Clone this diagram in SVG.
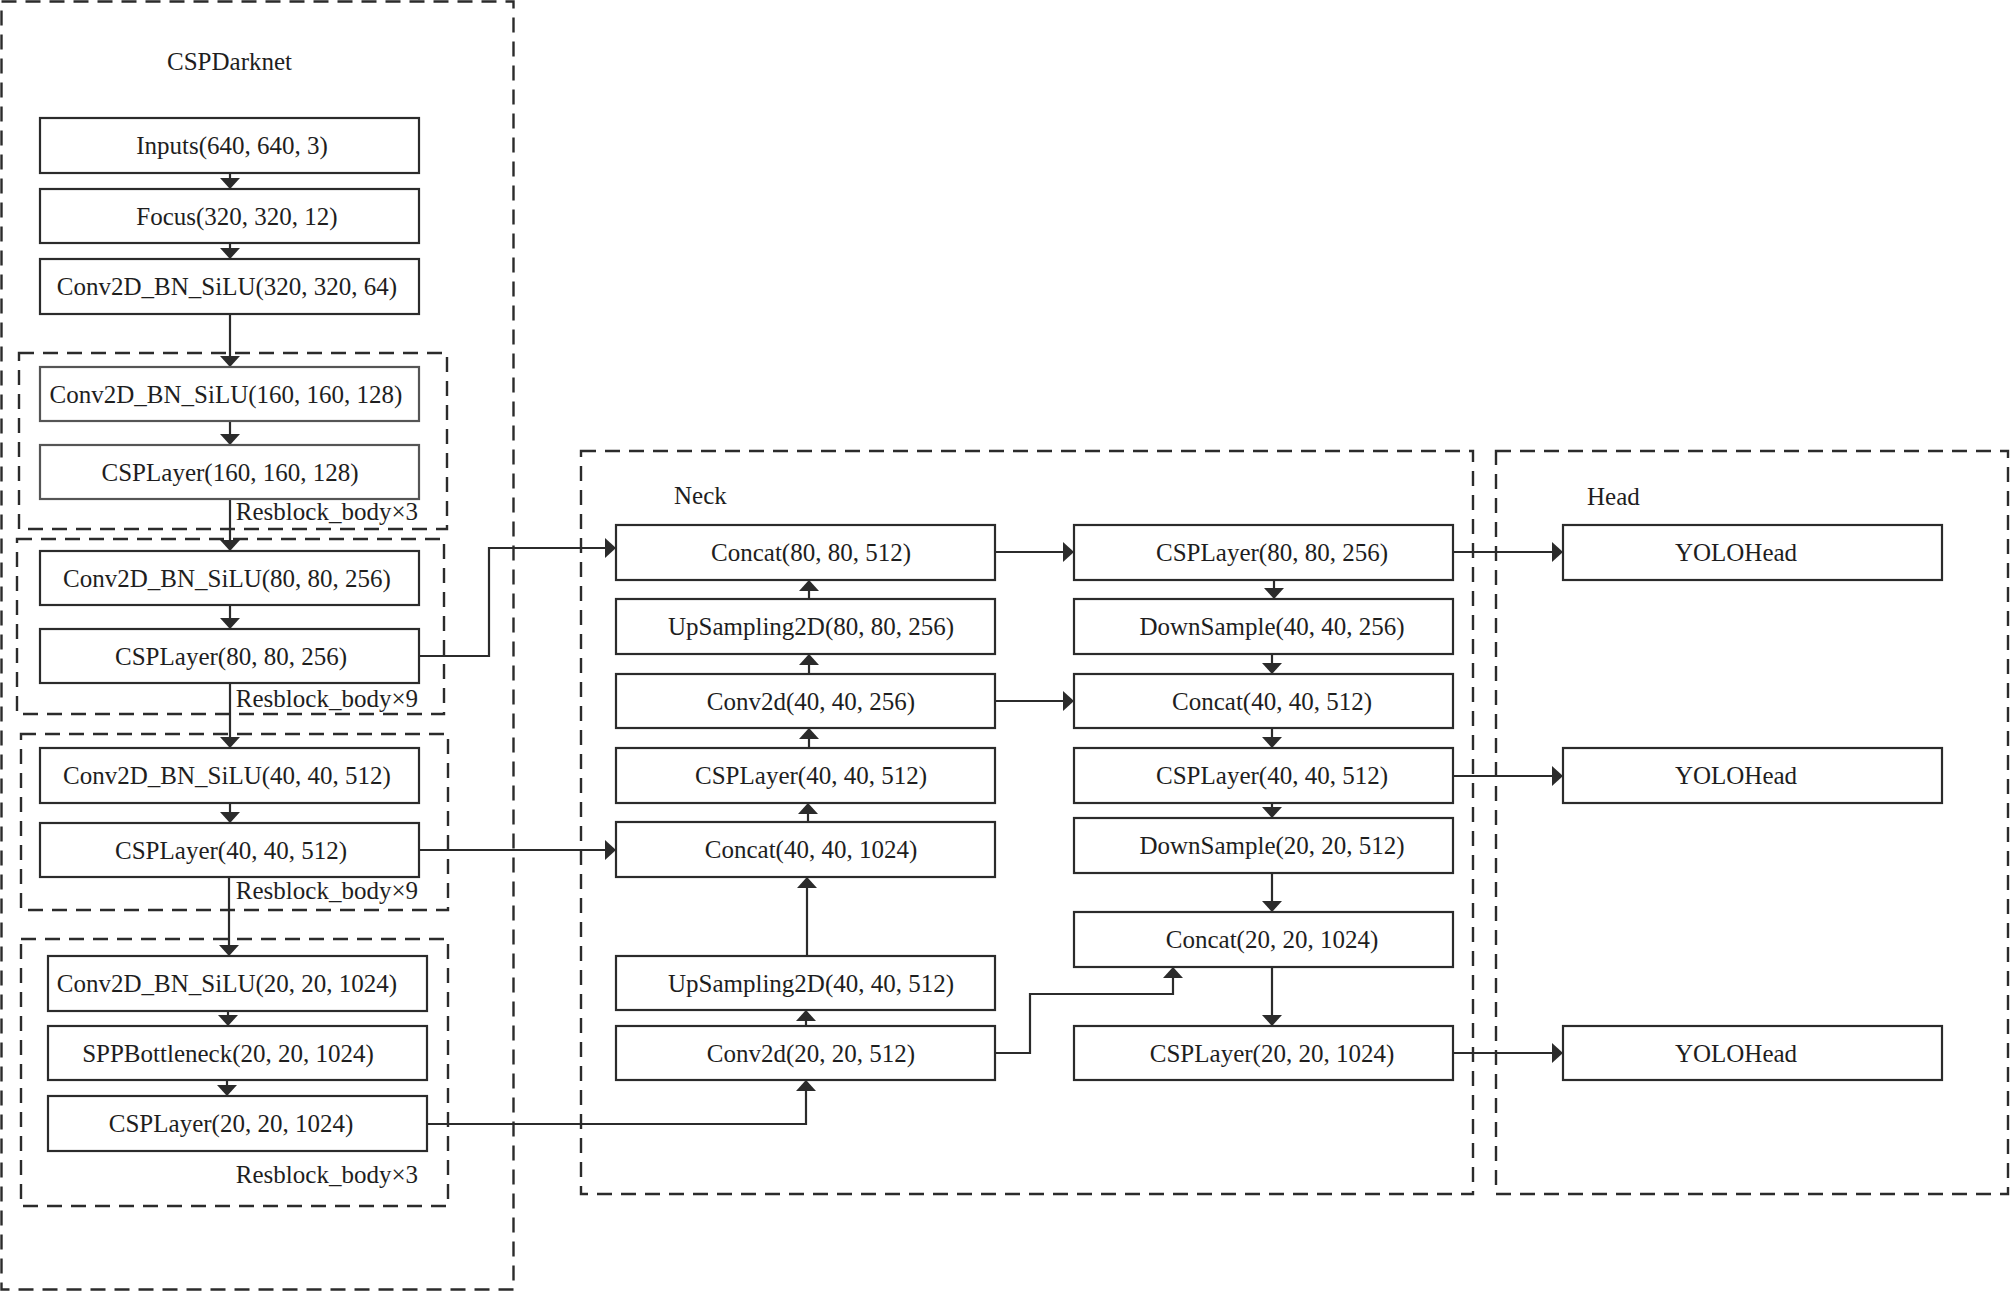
<svg xmlns="http://www.w3.org/2000/svg" width="2010" height="1293" viewBox="0 0 2010 1293">
<style>
  .bg{fill:#ffffff}
  .node rect{fill:#ffffff;stroke:#2b2b2b;stroke-width:2.2}
  .node text{font-family:"Liberation Serif","Times New Roman",serif;font-size:25px;fill:#1e1e1e;text-anchor:middle}
  .grp{fill:none;stroke:#2b2b2b;stroke-width:2.4;stroke-dasharray:15 9}
  .lbl{font-family:"Liberation Serif","Times New Roman",serif;font-size:25px;fill:#1e1e1e}
  .lbl.end{text-anchor:end}
  .conn path{fill:none;stroke:#2b2b2b;stroke-width:2.2}
</style>
<defs>
  <marker id="arr" viewBox="0 0 11 20" refX="11" refY="10" markerWidth="11" markerHeight="20" orient="auto" markerUnits="userSpaceOnUse">
    <path d="M0,0 L11,10 L0,20 z" fill="#2b2b2b"/>
  </marker>
</defs>
<rect class="bg" x="0" y="0" width="2010" height="1293"/>

<!-- group frames -->
<g id="frames">
  <rect class="grp" x="1.5" y="1.5" width="512" height="1288"/>
  <rect class="grp" x="19" y="353" width="428" height="176"/>
  <rect class="grp" x="17" y="539" width="427" height="175"/>
  <rect class="grp" x="21" y="734" width="427" height="176"/>
  <rect class="grp" x="21" y="939" width="427" height="267"/>
  <rect class="grp" x="581" y="451" width="892" height="743"/>
  <rect class="grp" x="1496" y="451" width="512" height="743"/>
  <text class="lbl" x="167" y="70">CSPDarknet</text>
  <text class="lbl" x="674" y="504">Neck</text>
  <text class="lbl" x="1587" y="505">Head</text>
  <text class="lbl end" x="418" y="520">Resblock_body×3</text>
  <text class="lbl end" x="418" y="707">Resblock_body×9</text>
  <text class="lbl end" x="418" y="899">Resblock_body×9</text>
  <text class="lbl end" x="418" y="1183">Resblock_body×3</text>
</g>

<!-- connectors -->
<g id="connectors" class="conn">
  <path d="M230,173 V189" marker-end="url(#arr)"/>
  <path d="M230,243 V259" marker-end="url(#arr)"/>
  <path d="M230,314 V367" marker-end="url(#arr)"/>
  <path d="M230,421 V445" marker-end="url(#arr)"/>
  <path d="M230,499 V551" marker-end="url(#arr)"/>
  <path d="M230,605 V629" marker-end="url(#arr)"/>
  <path d="M230,683 V748" marker-end="url(#arr)"/>
  <path d="M230,803 V823" marker-end="url(#arr)"/>
  <path d="M229,877 V956" marker-end="url(#arr)"/>
  <path d="M228,1011 V1026" marker-end="url(#arr)"/>
  <path d="M227,1080 V1096" marker-end="url(#arr)"/>

  <path d="M419,656 H489 V548 H616" marker-end="url(#arr)"/>
  <path d="M419,850 H616" marker-end="url(#arr)"/>
  <path d="M427,1124 H806 V1080" marker-end="url(#arr)"/>

  <path d="M806,1026 V1010" marker-end="url(#arr)"/>
  <path d="M807,956 V877" marker-end="url(#arr)"/>
  <path d="M808,822 V803" marker-end="url(#arr)"/>
  <path d="M809,748 V728" marker-end="url(#arr)"/>
  <path d="M809,674 V654" marker-end="url(#arr)"/>
  <path d="M809,599 V580" marker-end="url(#arr)"/>

  <path d="M995,552 H1074" marker-end="url(#arr)"/>
  <path d="M995,701 H1074" marker-end="url(#arr)"/>
  <path d="M995,1053 H1030 V994 H1173 V967" marker-end="url(#arr)"/>

  <path d="M1274,580 V599" marker-end="url(#arr)"/>
  <path d="M1272,654 V674" marker-end="url(#arr)"/>
  <path d="M1272,728 V748" marker-end="url(#arr)"/>
  <path d="M1272,803 V818" marker-end="url(#arr)"/>
  <path d="M1272,873 V912" marker-end="url(#arr)"/>
  <path d="M1272,967 V1026" marker-end="url(#arr)"/>

  <path d="M1453,552 H1563" marker-end="url(#arr)"/>
  <path d="M1453,776 H1563" marker-end="url(#arr)"/>
  <path d="M1453,1053 H1563" marker-end="url(#arr)"/>
</g>

<!-- backbone nodes -->
<g id="n-inputs" class="node"><rect x="40" y="118" width="379" height="55"/><text x="232" y="154">Inputs(640, 640, 3)</text></g>
<g id="n-focus" class="node"><rect x="40" y="189" width="379" height="54"/><text x="237" y="224.5">Focus(320, 320, 12)</text></g>
<g id="n-conv320" class="node"><rect x="40" y="259" width="379" height="55"/><text x="227" y="295">Conv2D_BN_SiLU(320, 320, 64)</text></g>
<g id="n-conv160" class="node"><rect x="40" y="367" width="379" height="54" style="stroke:#555"/><text x="226" y="402.5">Conv2D_BN_SiLU(160, 160, 128)</text></g>
<g id="n-csp160" class="node"><rect x="40" y="445" width="379" height="54" style="stroke:#555"/><text x="230" y="480.5">CSPLayer(160, 160, 128)</text></g>
<g id="n-conv80" class="node"><rect x="40" y="551" width="379" height="54"/><text x="227" y="586.5">Conv2D_BN_SiLU(80, 80, 256)</text></g>
<g id="n-csp80" class="node"><rect x="40" y="629" width="379" height="54"/><text x="231" y="664.5">CSPLayer(80, 80, 256)</text></g>
<g id="n-conv40" class="node"><rect x="40" y="748" width="379" height="55"/><text x="227" y="784">Conv2D_BN_SiLU(40, 40, 512)</text></g>
<g id="n-csp40" class="node"><rect x="40" y="823" width="379" height="54"/><text x="231" y="858.5">CSPLayer(40, 40, 512)</text></g>
<g id="n-conv20" class="node"><rect x="48" y="956" width="379" height="55"/><text x="227" y="992">Conv2D_BN_SiLU(20, 20, 1024)</text></g>
<g id="n-spp" class="node"><rect x="48" y="1026" width="379" height="54"/><text x="228" y="1061.5">SPPBottleneck(20, 20, 1024)</text></g>
<g id="n-csp20" class="node"><rect x="48" y="1096" width="379" height="55"/><text x="231" y="1132">CSPLayer(20, 20, 1024)</text></g>

<!-- neck left column -->
<g id="n-concat80" class="node"><rect x="616" y="525" width="379" height="55"/><text x="811" y="561">Concat(80, 80, 512)</text></g>
<g id="n-up80" class="node"><rect x="616" y="599" width="379" height="55"/><text x="811" y="635">UpSampling2D(80, 80, 256)</text></g>
<g id="n-conv2d40" class="node"><rect x="616" y="674" width="379" height="54"/><text x="811" y="709.5">Conv2d(40, 40, 256)</text></g>
<g id="n-ncsp40" class="node"><rect x="616" y="748" width="379" height="55"/><text x="811" y="784">CSPLayer(40, 40, 512)</text></g>
<g id="n-concat40" class="node"><rect x="616" y="822" width="379" height="55"/><text x="811" y="858">Concat(40, 40, 1024)</text></g>
<g id="n-up40" class="node"><rect x="616" y="956" width="379" height="54"/><text x="811" y="991.5">UpSampling2D(40, 40, 512)</text></g>
<g id="n-conv2d20" class="node"><rect x="616" y="1026" width="379" height="54"/><text x="811" y="1061.5">Conv2d(20, 20, 512)</text></g>

<!-- neck right column -->
<g id="n-rcsp80" class="node"><rect x="1074" y="525" width="379" height="55"/><text x="1272" y="561">CSPLayer(80, 80, 256)</text></g>
<g id="n-down40" class="node"><rect x="1074" y="599" width="379" height="55"/><text x="1272" y="635">DownSample(40, 40, 256)</text></g>
<g id="n-rconcat40" class="node"><rect x="1074" y="674" width="379" height="54"/><text x="1272" y="709.5">Concat(40, 40, 512)</text></g>
<g id="n-rcsp40" class="node"><rect x="1074" y="748" width="379" height="55"/><text x="1272" y="784">CSPLayer(40, 40, 512)</text></g>
<g id="n-down20" class="node"><rect x="1074" y="818" width="379" height="55"/><text x="1272" y="854">DownSample(20, 20, 512)</text></g>
<g id="n-rconcat20" class="node"><rect x="1074" y="912" width="379" height="55"/><text x="1272" y="948">Concat(20, 20, 1024)</text></g>
<g id="n-rcsp20" class="node"><rect x="1074" y="1026" width="379" height="54"/><text x="1272" y="1061.5">CSPLayer(20, 20, 1024)</text></g>

<!-- head -->
<g id="n-head1" class="node"><rect x="1563" y="525" width="379" height="55"/><text x="1736" y="561">YOLOHead</text></g>
<g id="n-head2" class="node"><rect x="1563" y="748" width="379" height="55"/><text x="1736" y="784">YOLOHead</text></g>
<g id="n-head3" class="node"><rect x="1563" y="1026" width="379" height="54"/><text x="1736" y="1061.5">YOLOHead</text></g>
</svg>
